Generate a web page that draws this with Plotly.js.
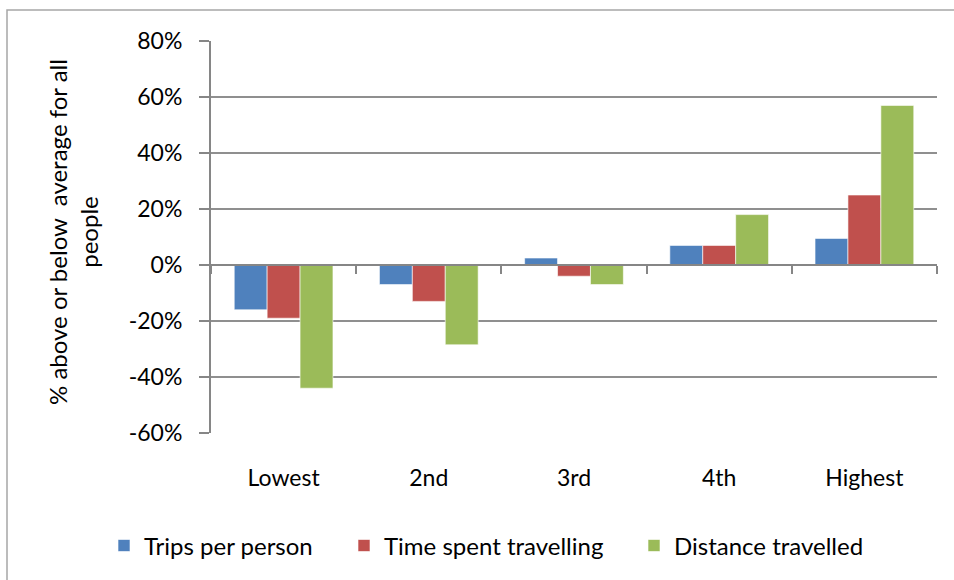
<!DOCTYPE html>
<html>
<head>
<meta charset="utf-8">
<script src="https://cdn.plot.ly/plotly-3.0.1.min.js"></script>
<style>
html,body{margin:0;padding:0;background:#fff;}
#chart{width:954px;height:580px;}
</style>
</head>
<body>
<div id="chart"></div>
<script>
var categories = ["Lowest", "2nd", "3rd", "4th", "Highest"];
var seriesNames = ["Trips per person", "Time spent travelling", "Distance travelled"];
var tripsPerPerson = [-16, -7, 2.5, 7, 9.5];
var timeSpentTravelling = [-19, -13, -4, 7, 25];
var distanceTravelled = [-44, -28.5, -7, 18, 57];
var seriesColors = ["#4F81BD", "#C0504D", "#9BBB59"];
var yTickValues = [-60, -40, -20, 0, 20, 40, 60, 80];
var yTickLabels = ["-60%", "-40%", "-20%", "0%", "20%", "40%", "60%", "80%"];
var boundaryTicks = [-0.5, 0.5, 1.5, 2.5, 3.5, 4.5];

var font = "Lato, 'Open Sans', sans-serif";
var legendIds = ["legend", "legend2", "legend3"];
var legendLeftPx = [104, 344, 634];
var allValues = [tripsPerPerson, timeSpentTravelling, distanceTravelled];
var traces = allValues.map(function (vals, i) {
  return {
    type: "bar",
    name: seriesNames[i],
    legend: legendIds[i],
    x: categories.map(function (c, k) { return k; }),
    y: vals,
    marker: { color: seriesColors[i], line: { color: "rgba(255,255,255,0.6)", width: 1 } },
    hoverinfo: "none"
  };
});
// invisible trace to carry the zero-crossing axis with boundary ticks
traces.push({
  type: "scatter", x: [0, 4], y: [0, 0], xaxis: "x2", yaxis: "y",
  mode: "lines", line: { width: 0 }, showlegend: false, hoverinfo: "none"
});

var layout = {
  width: 954, height: 580,
  margin: { l: 211, r: 17, t: 41, b: 147 },
  paper_bgcolor: "#ffffff", plot_bgcolor: "#ffffff",
  font: { family: font, size: 23, color: "#000000" },
  barmode: "group", bargap: 0.32, bargroupgap: 0,
  showlegend: true,
  xaxis: {
    range: [-0.5, 4.5], tickmode: "array",
    tickvals: categories.map(function (c, k) { return k; }), ticktext: categories,
    showline: false, showgrid: false, zeroline: false, ticks: "",
    ticklabelstandoff: 29, tickfont: { family: font, size: 23, color: "#000" },
    fixedrange: true
  },
  xaxis2: {
    overlaying: "x", anchor: "free", position: 60 / 140, range: [-0.5, 4.5],
    tickmode: "array", tickvals: boundaryTicks, ticktext: boundaryTicks.map(function () { return ""; }),
    showticklabels: false, ticks: "outside", ticklen: 8, tickwidth: 2, tickcolor: "#868686",
    showline: true, linecolor: "#868686", linewidth: 2, showgrid: false, zeroline: false,
    fixedrange: true
  },
  yaxis: {
    range: [-60, 80], tickmode: "array", tickvals: yTickValues, ticktext: yTickLabels,
    showgrid: true, gridcolor: "#8f8f8f", gridwidth: 1.5,
    zeroline: false,
    showline: true, linecolor: "#868686", linewidth: 2,
    ticks: "outside", ticklen: 10, tickcolor: "#868686", tickwidth: 1.5,
    ticklabelstandoff: 12, tickfont: { family: font, size: 23, color: "#000" },
    fixedrange: true
  },
  annotations: [{
    xref: "paper", yref: "paper", x: (73 - 211) / 726, y: (433 - 232) / 392,
    xanchor: "center", yanchor: "middle", textangle: -90, showarrow: false,
    text: "% above or below  average for all<br>people",
    font: { family: font, size: 24, color: "#000" }
  }],
  shapes: [{
    type: "rect", xref: "paper", yref: "paper", layer: "below",
    x0: (7 - 211) / 726, x1: (960 - 211) / 726, y0: (433 - 590) / 392, y1: (433 - 10) / 392,
    line: { color: "#a6a6a6", width: 1.5 }, fillcolor: "rgba(0,0,0,0)"
  }]
};
legendIds.forEach(function (id, i) {
  layout[id] = {
    orientation: "h", x: (legendLeftPx[i] - 211) / 726, xanchor: "left",
    y: -0.288, yanchor: "middle", bgcolor: "rgba(0,0,0,0)",
    font: { family: font, size: 24, color: "#000" }, itemwidth: 30
  };
});

Plotly.newPlot("chart", traces, layout, { staticPlot: true, displayModeBar: false });
</script>
</body>
</html>
